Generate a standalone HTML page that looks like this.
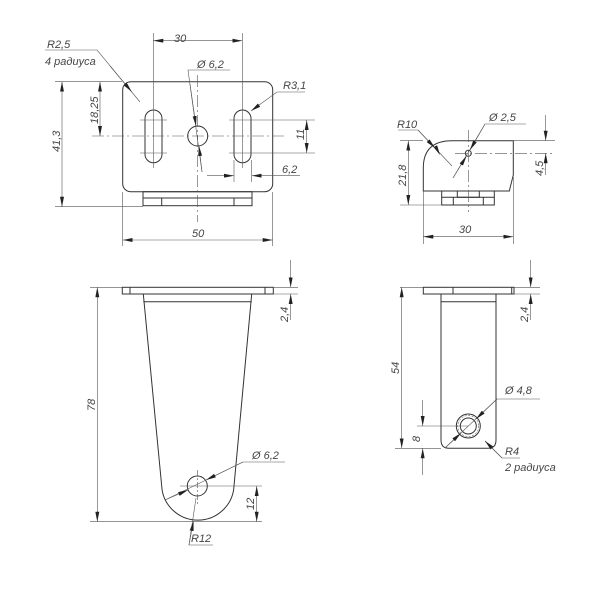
<!DOCTYPE html>
<html><head><meta charset="utf-8"><style>
html,body{margin:0;padding:0;background:#fff;}
svg{display:block}
text{font-family:"Liberation Sans",sans-serif;font-style:italic;font-size:11px;fill:#444}
</style></head><body>
<svg width="600" height="600" viewBox="0 0 600 600" xmlns="http://www.w3.org/2000/svg">
<defs>
<marker id="a" viewBox="0 0 10 4" refX="10" refY="2" markerWidth="10" markerHeight="4" markerUnits="userSpaceOnUse" orient="auto-start-reverse"><path d="M0,0 L10,2 L0,4 Z" fill="#222"/></marker>
</defs>
<g fill="none" stroke="#333" stroke-width="1">
<!-- ===== View 1 (top-left) ===== -->
<rect x="122.7" y="81.7" width="150" height="110" rx="8"/>
<rect x="143" y="191.7" width="109" height="14"/>
<line x1="143" y1="198" x2="252" y2="198"/>
<line x1="161.7" y1="198" x2="161.7" y2="205.7"/>
<line x1="234" y1="198" x2="234" y2="205.7"/>
<rect x="145" y="110" width="17" height="52.7" rx="8.5"/>
<rect x="234" y="110" width="17" height="52.7" rx="8.5"/>
<circle cx="197.7" cy="136" r="10"/>
</g>
<g fill="none" stroke="#555" stroke-width="0.6">
<line x1="92" y1="136" x2="285" y2="136" stroke-dasharray="12,3,2,3"/>
<line x1="197.7" y1="75" x2="197.7" y2="222" stroke-dasharray="12,3,2,3"/>
<line x1="153.3" y1="33" x2="153.3" y2="168"/>
<line x1="242.3" y1="33" x2="242.3" y2="168"/>
<line x1="140" y1="120" x2="167" y2="120"/><line x1="140" y1="153" x2="167" y2="153"/>
<line x1="229" y1="120" x2="315" y2="120"/><line x1="229" y1="153" x2="315" y2="153"/>
<line x1="153.3" y1="40.7" x2="242.3" y2="40.7" marker-start="url(#a)" marker-end="url(#a)"/>
<line x1="55" y1="81.7" x2="122" y2="81.7"/>
<line x1="55" y1="206.7" x2="143" y2="206.7"/>
<line x1="62" y1="81.7" x2="62" y2="206.7" marker-start="url(#a)" marker-end="url(#a)"/>
<line x1="100" y1="81.7" x2="100" y2="136" marker-start="url(#a)" marker-end="url(#a)"/>
<line x1="306.7" y1="120" x2="306.7" y2="153" marker-start="url(#a)" marker-end="url(#a)"/>
<line x1="234" y1="160" x2="234" y2="182"/><line x1="251.7" y1="160" x2="251.7" y2="182"/>
<line x1="207" y1="175.7" x2="234" y2="175.7" marker-end="url(#a)"/>
<line x1="263" y1="175.7" x2="251.7" y2="175.7" marker-end="url(#a)"/>
<line x1="263" y1="175.7" x2="300" y2="175.7"/>
<line x1="122.7" y1="192" x2="122.7" y2="246"/><line x1="272.7" y1="192" x2="272.7" y2="246"/>
<line x1="122.7" y1="240" x2="272.7" y2="240" marker-start="url(#a)" marker-end="url(#a)"/>
<polyline points="45,50 97,50 140,102"/>
<line x1="110" y1="66" x2="131.7" y2="91.7" marker-end="url(#a)"/>
<polyline points="230,70 188,70 202,172"/>
<line x1="190" y1="84" x2="196" y2="126" marker-end="url(#a)"/>
<line x1="202" y1="172" x2="199" y2="146" marker-end="url(#a)"/>
<polyline points="305,92 277,92 251,111" marker-end="url(#a)"/>
</g>
<text x="47" y="48">R2,5</text>
<text x="45" y="65">4 радиуса</text>
<text x="174" y="42">30</text>
<text x="197" y="68">Ø 6,2</text>
<text x="283" y="89">R3,1</text>
<text x="282" y="173">6,2</text>
<text x="192" y="237">50</text>
<text transform="translate(60,152) rotate(-90)">41,3</text>
<text transform="translate(98,124) rotate(-90)">18,25</text>
<text transform="translate(304,140) rotate(-90)">11</text>

<!-- ===== View 2 (top-right) ===== -->
<g fill="none" stroke="#333" stroke-width="1">
<path d="M423.3,191 V168 Q423.3,140.7 452,140.7 H513.3 V175 L509.3,191 Z"/>
<rect x="441.7" y="191" width="52.6" height="14"/>
<rect x="457.3" y="191" width="22" height="6.3"/>
<line x1="441.7" y1="197.3" x2="494.3" y2="197.3"/>
<line x1="453.3" y1="197.3" x2="453.3" y2="205"/>
<line x1="483.3" y1="197.3" x2="483.3" y2="205"/>
<circle cx="468.3" cy="153.3" r="3"/>
</g>
<g fill="none" stroke="#555" stroke-width="0.6">
<line x1="455" y1="153.3" x2="555" y2="153.3" stroke-dasharray="12,3,2,3"/>
<line x1="468.3" y1="130" x2="468.3" y2="212" stroke-dasharray="12,3,2,3"/>
<line x1="400" y1="140.7" x2="423" y2="140.7"/>
<line x1="513.3" y1="140.7" x2="555" y2="140.7"/>
<line x1="400" y1="205" x2="442" y2="205"/>
<line x1="408.3" y1="140.7" x2="408.3" y2="205" marker-start="url(#a)" marker-end="url(#a)"/>
<line x1="423.3" y1="191" x2="423.3" y2="244"/>
<line x1="513.3" y1="176" x2="513.3" y2="244"/>
<line x1="423.3" y1="236.7" x2="513.3" y2="236.7" marker-start="url(#a)" marker-end="url(#a)"/>
<line x1="545.7" y1="115" x2="545.7" y2="140.7" marker-end="url(#a)"/>
<line x1="545.7" y1="175" x2="545.7" y2="153.3" marker-end="url(#a)"/>
<polyline points="398,130 418,130 452,166"/>
<line x1="430" y1="136" x2="440" y2="155" marker-end="url(#a)" stroke="none"/>
<line x1="418" y1="130" x2="435" y2="148" marker-end="url(#a)"/>
<polyline points="526,124 485,124 453,178"/>
<line x1="485" y1="124" x2="470" y2="150" marker-end="url(#a)"/>
<line x1="453" y1="178" x2="466.5" y2="156" marker-end="url(#a)"/>
</g>
<text x="397" y="128">R10</text>
<text x="489" y="121">Ø 2,5</text>
<text x="459" y="233">30</text>
<text transform="translate(406,186) rotate(-90)">21,8</text>
<text transform="translate(543,176) rotate(-90)">4,5</text>

<!-- ===== View 3 (bottom-left) ===== -->
<g fill="none" stroke="#333" stroke-width="1">
<rect x="122.3" y="287.3" width="151" height="6.7"/>
<line x1="130" y1="287.3" x2="130" y2="294"/>
<line x1="265" y1="287.3" x2="265" y2="294"/>
<line x1="143.3" y1="301.7" x2="251.7" y2="301.7"/>
<path d="M143.3,294 L161.7,486 A36.2,36 0 0 0 234,486 L251.7,294"/>
<circle cx="197.3" cy="486" r="10"/>
</g>
<g fill="none" stroke="#555" stroke-width="0.6">
<line x1="180" y1="486" x2="262" y2="486"/>
<line x1="197.3" y1="470" x2="197.3" y2="505" stroke-dasharray="6,2,2,2"/>
<line x1="90" y1="287.3" x2="122" y2="287.3"/>
<line x1="90" y1="521.7" x2="262" y2="521.7"/>
<line x1="97.3" y1="287.3" x2="97.3" y2="521.7" marker-start="url(#a)" marker-end="url(#a)"/>
<line x1="273" y1="287.3" x2="298" y2="287.3"/>
<line x1="273" y1="294" x2="298" y2="294"/>
<line x1="290.7" y1="260" x2="290.7" y2="287.3" marker-end="url(#a)"/>
<line x1="290.7" y1="320" x2="290.7" y2="294" marker-end="url(#a)"/>
<line x1="256.7" y1="486" x2="256.7" y2="521.7" marker-start="url(#a)" marker-end="url(#a)"/>
<polyline points="285,462 243,462 165,500"/>
<line x1="243" y1="462" x2="206" y2="480" marker-end="url(#a)"/>
<line x1="165" y1="500" x2="188" y2="490" marker-end="url(#a)"/>
<polyline points="213,545 189,545 196,498"/>
<line x1="189" y1="545" x2="193.5" y2="521" marker-end="url(#a)"/>
</g>
<text x="252" y="459">Ø 6,2</text>
<text x="191" y="542">R12</text>
<text transform="translate(95,411) rotate(-90)">78</text>
<text transform="translate(288,322) rotate(-90)">2,4</text>
<text transform="translate(254,510) rotate(-90)">12</text>

<!-- ===== View 4 (bottom-right) ===== -->
<g fill="none" stroke="#333" stroke-width="1">
<rect x="423.3" y="287.3" width="90.7" height="6.7"/>
<line x1="453" y1="287.3" x2="453" y2="294"/>
<line x1="511.7" y1="287.3" x2="511.7" y2="294"/>
<path d="M441,294 V440 Q441,448.3 449,448.3 H488 Q496,448.3 496,440 V294"/>
<line x1="441" y1="301.7" x2="496" y2="301.7"/>
<circle cx="468.3" cy="426" r="8"/>
<circle cx="468.3" cy="426" r="12"/>
<circle cx="468.3" cy="426" r="10.5" stroke-width="0.5" stroke-dasharray="2,1.5"/>
</g>
<g fill="none" stroke="#555" stroke-width="0.6">
<line x1="400" y1="287.3" x2="423" y2="287.3"/>
<line x1="395" y1="448.3" x2="441" y2="448.3"/>
<line x1="401.7" y1="287.3" x2="401.7" y2="448.3" marker-start="url(#a)" marker-end="url(#a)"/>
<line x1="514" y1="287.3" x2="540" y2="287.3"/>
<line x1="514" y1="294" x2="540" y2="294"/>
<line x1="530.7" y1="260" x2="530.7" y2="287.3" marker-end="url(#a)"/>
<line x1="530.7" y1="320" x2="530.7" y2="294" marker-end="url(#a)"/>
<line x1="417" y1="426" x2="468" y2="426"/>
<line x1="422.7" y1="400" x2="422.7" y2="426" marker-end="url(#a)"/>
<line x1="422.7" y1="475" x2="422.7" y2="448.3" marker-end="url(#a)"/>
<polyline points="540,399 497,399 445,448"/>
<line x1="497" y1="399" x2="476" y2="419" marker-end="url(#a)"/>
<line x1="445" y1="448" x2="461" y2="433" marker-end="url(#a)"/>
<polyline points="520,458 502,458 485,441" />
<line x1="502" y1="458" x2="485" y2="441" marker-end="url(#a)"/>
</g>
<text x="505" y="394">Ø 4,8</text>
<text x="505" y="455">R4</text>
<text x="505" y="471">2 радиуса</text>
<text transform="translate(399,374) rotate(-90)">54</text>
<text transform="translate(528,322) rotate(-90)">2,4</text>
<text transform="translate(420,442) rotate(-90)">8</text>
</svg>
</body></html>
